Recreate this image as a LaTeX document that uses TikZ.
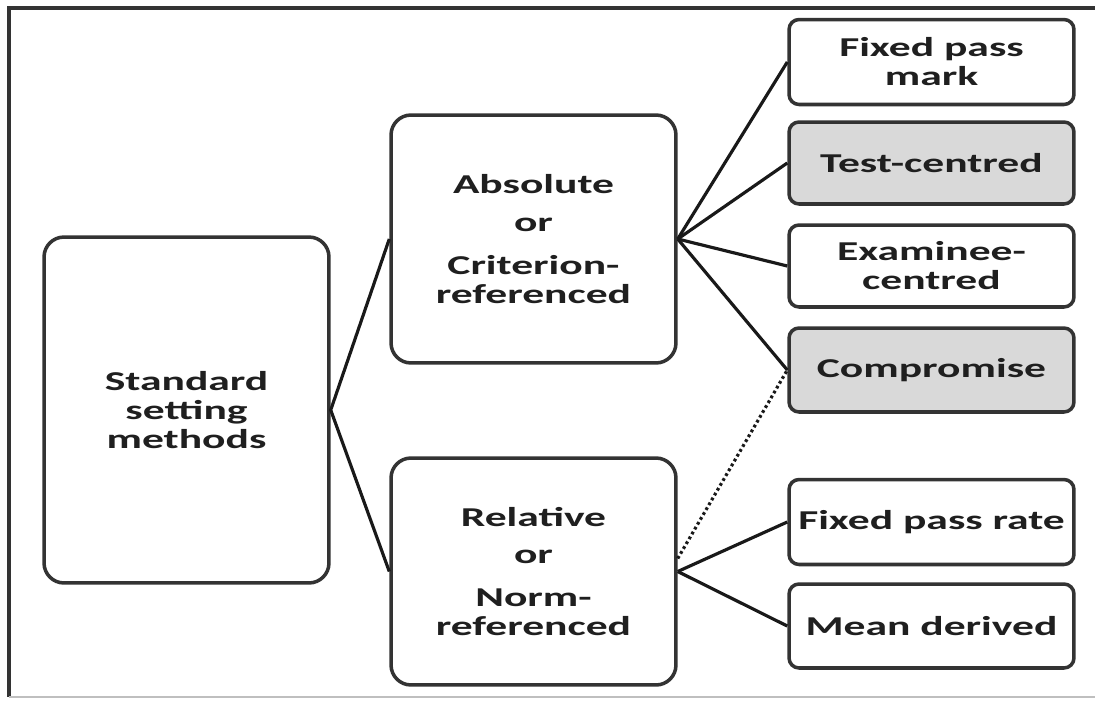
\documentclass[tikz,border=0pt]{standalone}
\usepackage{fontspec}
\setmainfont[FakeStretch=1.6]{Carlito}
\begin{document}
\begin{tikzpicture}[x=0.02cm,y=-0.02cm,
	box/.style={draw=black!80,line width=2pt,rounded corners=0.2cm,fill=white,align=center,inner sep=0pt,
		minimum width=5.7cm,text=black!88,font=\bfseries\fontsize{15.5}{16.5}\selectfont},
	shade/.style={box,fill=black!15},
	link/.style={line width=1.8pt,draw=black!90}]
	\useasboundingbox (0,0) rectangle (1095,700);
	\draw[line width=2pt,black!80] (1100,8)--(9,8)--(9,697);
	\draw[line width=1pt,black!25] (9,697)--(1100,697);
	% left and middle column
	\node[box,minimum height=6.92cm,rounded corners=0.4cm] (std) at (186.5,410) {Standard\\setting\\methods};
	\node[box,minimum height=4.96cm,rounded corners=0.4cm] (abs) at (533.5,239) {Absolute\\[5pt]or\\[8pt]Criterion-\\referenced};
	\node[box,minimum height=4.54cm,rounded corners=0.4cm] (rel) at (533.5,571.5) {Relative\\[5pt]or\\[8pt]Norm-\\referenced};
	% right column
	\node[box,minimum height=1.7cm] (fpm) at (931.5,62) {Fixed pass\\mark};
	\node[shade,minimum height=1.64cm] (tc) at (931.5,163) {Test-centred};
	\node[box,minimum height=1.64cm] (ec) at (931.5,266) {Examinee-\\centred};
	\node[shade,minimum height=1.68cm] (comp) at (931.5,370) {Compromise};
	\node[box,minimum height=1.7cm] (fpr) at (931.5,522) {Fixed pass rate};
	\node[box,minimum height=1.68cm] (md) at (931.5,626) {Mean derived};
	\draw[link] (abs.west)--(std.east)--(rel.west);
	\foreach \t in {fpm,tc,ec,comp} \draw[link] (abs.east)--(\t.west);
	\foreach \t in {fpr,md} \draw[link] (rel.east)--(\t.west);
	\draw[link,dash pattern=on 1.6pt off 1.6pt] ([yshift=0.26cm]rel.east)--(comp.west);
\end{tikzpicture}
\end{document}
